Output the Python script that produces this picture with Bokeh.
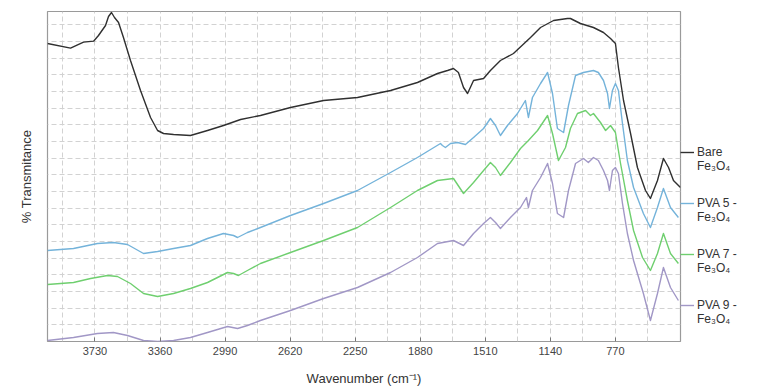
from bokeh.plotting import figure
from bokeh.models import Range1d, FixedTicker, Legend, LegendItem
from bokeh.embed import file_html
from bokeh.resources import INLINE

# ---- data (wavenumber cm^-1, % transmittance, arbitrary offset units) ----
bare_wn = [4000, 3869, 3795, 3738, 3710, 3670, 3653, 3636, 3619, 3596, 3568, 3528, 3471, 3414,
           3374, 3340, 3283, 3187, 3090, 2999, 2902, 2789, 2618, 2430, 2237, 2049, 1896, 1782,
           1725, 1691, 1663, 1634, 1611, 1577, 1520, 1481, 1424, 1350, 1253, 1196, 1122, 1043,
           1026, 969, 895, 838, 798, 770, 753, 724, 684, 645, 599, 571, 531, 497, 468, 440, 400]
bare_t = [89.4, 88.0, 89.8, 90.1, 91.8, 94.8, 97.5, 98.7, 97.2, 95.7, 91.2, 84.3, 75.3, 67.2,
          63.3, 62.4, 62.1, 61.8, 63.3, 64.8, 66.6, 67.8, 70.2, 72.3, 73.2, 75.3, 77.7, 80.4,
          81.3, 81.9, 80.7, 76.2, 74.4, 78.3, 78.9, 81.3, 84.3, 86.4, 91.2, 94.2, 96.3, 96.9,
          96.9, 95.4, 94.2, 92.7, 90.9, 89.4, 82.2, 72.3, 62.4, 52.2, 45.3, 42.9, 48.3, 54.9,
          52.2, 48.3, 46.2]

pva5_wn = [4000, 3852, 3716, 3625, 3545, 3454, 3374, 3283, 3187, 3090, 2999, 2942, 2919, 2863,
           2789, 2618, 2430, 2237, 2049, 1896, 1765, 1754, 1737, 1708, 1668, 1623, 1577, 1520,
           1481, 1452, 1424, 1384, 1327, 1282, 1265, 1242, 1196, 1156, 1128, 1100, 1065, 1037,
           997, 952, 895, 867, 838, 815, 804, 787, 770, 753, 730, 702, 667, 611, 571, 531, 497,
           457, 412]
pva5_t = [27.3, 27.9, 29.4, 29.7, 29.1, 26.4, 27.0, 27.9, 28.8, 30.9, 32.4, 31.8, 31.2, 32.7,
          34.2, 37.8, 41.4, 45.3, 50.7, 55.2, 59.4, 58.8, 58.2, 59.4, 59.7, 59.1, 61.2, 63.9,
          66.9, 64.8, 61.8, 64.8, 68.4, 72.3, 67.2, 73.2, 77.4, 80.7, 74.4, 63.9, 62.7, 70.8,
          79.8, 80.7, 81.3, 80.7, 78.3, 74.4, 69.9, 75.3, 77.4, 75.3, 65.4, 54.3, 46.2, 38.4,
          34.2, 40.2, 45.9, 40.2, 37.2]

pva7_wn = [4000, 3852, 3755, 3659, 3602, 3528, 3454, 3374, 3283, 3187, 3090, 2976, 2942, 2914,
           2863, 2789, 2618, 2430, 2237, 2049, 1896, 1782, 1691, 1634, 1577, 1520, 1481, 1452,
           1424, 1367, 1310, 1265, 1213, 1156, 1128, 1094, 1054, 1026, 986, 940, 912, 895, 855,
           826, 798, 770, 741, 702, 667, 616, 571, 531, 497, 457, 412]
pva7_t = [17.1, 17.7, 18.9, 19.8, 19.5, 17.4, 14.4, 13.5, 14.4, 15.9, 17.7, 20.7, 20.4, 19.8,
          21.3, 23.4, 26.7, 30.3, 34.2, 40.2, 45.3, 48.3, 48.9, 44.4, 47.7, 51.3, 53.7, 52.2,
          49.8, 53.7, 57.9, 60.3, 63.3, 67.8, 62.4, 54.3, 58.2, 63.9, 68.4, 69.3, 67.8, 68.4,
          65.7, 63.3, 64.8, 62.7, 53.4, 42.3, 33.3, 25.2, 21.3, 26.4, 32.4, 26.4, 23.4]

pva9_wn = [4000, 3852, 3716, 3625, 3545, 3454, 3374, 3283, 3187, 3090, 2976, 2919, 2863, 2789,
           2618, 2430, 2237, 2049, 1896, 1782, 1691, 1634, 1577, 1520, 1481, 1452, 1424, 1367,
           1310, 1276, 1265, 1242, 1196, 1156, 1128, 1100, 1065, 1037, 997, 952, 924, 895, 867,
           838, 815, 804, 787, 770, 753, 730, 702, 667, 611, 571, 531, 497, 457, 412]
pva9_t = [0.3, 1.2, 2.4, 2.7, 1.8, 0.3, 0.0, 0.3, 1.2, 2.7, 4.5, 3.9, 4.8, 6.3, 9.3, 12.9, 16.2,
          20.7, 25.2, 29.4, 30.3, 28.8, 32.4, 35.4, 37.2, 35.7, 33.9, 37.2, 40.2, 43.2, 40.2,
          45.3, 49.2, 53.4, 47.4, 38.4, 37.2, 45.3, 53.4, 54.9, 53.7, 55.2, 54.3, 51.3, 48.3,
          45.3, 51.3, 52.2, 50.4, 41.4, 32.4, 24.3, 14.4, 6.3, 14.4, 22.2, 16.2, 12.3]

series_labels = ["Bare\nFe\u2083O\u2084", "PVA 5 -\nFe\u2083O\u2084",
                 "PVA 7 -\nFe\u2083O\u2084", "PVA 9 -\nFe\u2083O\u2084"]
series_colors = ["#303030", "#74b3da", "#6fcf6f", "#a197c6"]

x_tick_values = [3730, 3360, 2990, 2620, 2250, 1880, 1510, 1140, 770]
x_grid_minor = [3915, 3545, 3175, 2805, 2435, 2065, 1695, 1325, 955, 585]
y_grid_values = [5 * i for i in range(0, 20)]

FONT = "Liberation Sans"

p = figure(frame_width=633, frame_height=330,
           x_range=Range1d(4000, 400), y_range=Range1d(0, 99),
           output_backend="svg", toolbar_location=None,
           min_border_left=47, min_border_right=0, min_border_top=11, min_border_bottom=41,
           background_fill_color="white", border_fill_color="white")

p.outline_line_color = "#9a9a9a"
p.outline_line_width = 1.2

# x axis
p.xaxis.ticker = FixedTicker(ticks=x_tick_values, minor_ticks=x_grid_minor)
p.xaxis.axis_line_color = None
p.xaxis.major_tick_in = 4
p.xaxis.major_tick_out = 0
p.xaxis.major_tick_line_color = "#777777"
p.xaxis.minor_tick_line_color = None
p.xaxis.major_label_text_font = FONT
p.xaxis.major_label_text_font_size = "11px"
p.xaxis.major_label_text_color = "#444444"
p.xaxis.major_label_standoff = 1
p.xaxis.axis_label = "Wavenumber (cm\u207b\u00b9)"
p.xaxis.axis_label_text_font = FONT
p.xaxis.axis_label_text_font_size = "13px"
p.xaxis.axis_label_text_font_style = "normal"
p.xaxis.axis_label_text_color = "#333333"
p.xaxis.axis_label_standoff = 13

# y axis
p.yaxis.ticker = FixedTicker(ticks=y_grid_values)
p.yaxis.axis_line_color = None
p.yaxis.major_tick_line_color = None
p.yaxis.minor_tick_line_color = None
p.yaxis.major_label_text_font_size = "0px"
p.yaxis.major_label_text_color = None
p.yaxis.axis_label = "% Transmitance"
p.yaxis.axis_label_text_font = FONT
p.yaxis.axis_label_text_font_size = "13px"
p.yaxis.axis_label_text_font_style = "normal"
p.yaxis.axis_label_text_color = "#333333"
p.yaxis.axis_label_standoff = 8

# grids
for g in (p.xgrid, p.ygrid):
    g.grid_line_color = "#d2d2d2"
    g.grid_line_dash = "5 3"
    g.grid_line_width = 1
p.xgrid.minor_grid_line_color = "#d2d2d2"
p.xgrid.minor_grid_line_dash = "5 3"

renderers = []
for wn, t, c in [(bare_wn, bare_t, series_colors[0]), (pva5_wn, pva5_t, series_colors[1]),
                 (pva7_wn, pva7_t, series_colors[2]), (pva9_wn, pva9_t, series_colors[3])]:
    r = p.line(wn, t, line_color=c, line_width=1.4, line_join="round")
    renderers.append(r)

# a blank first line keeps each legend glyph level with the label's first line
items = [LegendItem(label="\u00a0\n" + lab, renderers=[r]) for lab, r in zip(series_labels, renderers)]
legend = Legend(items=items, location=(0, 15), border_line_color=None,
                background_fill_alpha=0, label_text_font=FONT, label_text_font_size="12px",
                label_text_color="#333333", glyph_width=14, glyph_height=12,
                label_standoff=3, spacing=9, padding=2, margin=3)
p.add_layout(legend, "right")

open("out.html", "w").write(file_html(p, INLINE))
